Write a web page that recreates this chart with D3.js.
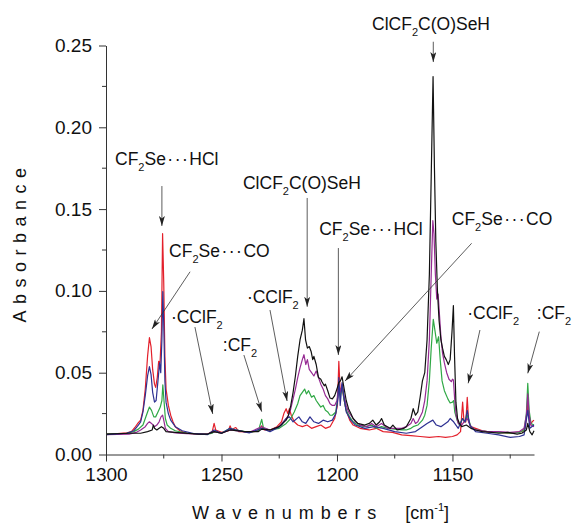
<!DOCTYPE html>
<html>
<head>
<meta charset="utf-8">
<script src="https://cdn.jsdelivr.net/npm/d3@7"></script>
<style>
  body { margin: 0; background: #fff; }
  svg { display: block; font-family: "Liberation Sans", Arial, sans-serif; }
</style>
</head>
<body>
<svg id="chart" width="575" height="529"></svg>
<script>
// Axis ticks
const xTicks = [1300, 1250, 1200, 1150];
const xMinorTicks = [1275, 1225, 1175, 1125];
const yTicks = [0, 0.05, 0.10, 0.15, 0.20, 0.25];
const yMinorTicks = [0.025, 0.075, 0.125, 0.175, 0.225];

// IR spectra: [wavenumber (cm-1), absorbance]
const redSpectrum = [
  [1300,0.0125],[1295,0.0128],[1291,0.0132],[1289,0.014],[1287.5,0.0165],[1286,0.0195],[1285,0.021],
  [1284,0.027],[1283,0.040],[1282,0.060],[1281.2,0.0714],[1280.5,0.066],[1279.8,0.052],[1279,0.043],
  [1278.5,0.041],[1277.8,0.047],[1277.2,0.057],[1276.6,0.056],[1276,0.075],[1275.5,0.135],[1275,0.105],
  [1274.5,0.060],[1274,0.040],[1273,0.030],[1272,0.024],[1271,0.020],[1270,0.017],[1268,0.0145],
  [1265,0.013],[1260,0.0125],[1256,0.0125],[1254,0.014],[1253.2,0.019],[1252.5,0.015],[1250,0.0135],
  [1247,0.0145],[1246.3,0.0175],[1245.5,0.015],[1244.5,0.016],[1243.8,0.0165],[1242.5,0.014],
  [1238,0.0138],[1235,0.0142],[1233.5,0.0155],[1232.6,0.0175],[1231.5,0.015],[1229,0.015],[1226,0.017],
  [1224,0.020],[1223,0.025],[1222,0.028],[1221.3,0.025],[1220.6,0.028],[1219.8,0.024],[1218.5,0.020],
  [1217,0.018],[1215,0.017],[1213,0.018],[1211,0.016],[1209,0.017],[1207,0.018],[1205,0.016],
  [1203,0.017],[1201,0.022],[1199.8,0.030],[1199.2,0.057],[1198.6,0.038],[1197.8,0.042],[1197,0.034],
  [1196,0.027],[1194.5,0.021],[1193,0.018],[1190,0.016],[1186,0.015],[1183,0.016],[1180,0.014],
  [1176,0.0135],[1172,0.012],[1168,0.0115],[1164,0.011],[1160,0.0105],[1156,0.011],[1153,0.0105],
  [1150,0.011],[1148,0.012],[1146.5,0.014],[1145.6,0.032],[1145,0.020],[1144.2,0.020],[1143.6,0.035],
  [1143,0.020],[1142,0.017],[1140,0.016],[1137,0.0145],[1135,0.014],[1130,0.0135],[1125,0.013],
  [1120,0.014],[1118.5,0.016],[1117.4,0.031],[1116.5,0.018],[1115.5,0.020],[1114.7,0.021]
];

const greenSpectrum = [
  [1300,0.0125],[1291,0.013],[1288,0.014],[1286,0.0155],[1284,0.018],[1283,0.022],[1282,0.026],
  [1281.2,0.029],[1280.3,0.027],[1279.3,0.023],[1278.5,0.023],[1277.5,0.026],[1276.5,0.029],
  [1275.8,0.033],[1275.4,0.0425],[1275,0.035],[1274.3,0.022],[1273.5,0.018],[1272,0.016],[1270,0.0145],
  [1265,0.013],[1256,0.0125],[1254,0.013],[1253.2,0.014],[1250,0.013],[1246.3,0.016],[1244,0.015],
  [1238,0.0135],[1234,0.0145],[1232.6,0.0215],[1231.8,0.016],[1229,0.015],[1225,0.016],[1222,0.019],
  [1220,0.022],[1218.5,0.026],[1217,0.031],[1216,0.036],[1215,0.038],[1214,0.040],[1213.2,0.037],
  [1212.3,0.039],[1211,0.035],[1210,0.036],[1209,0.033],[1208,0.031],[1207,0.029],[1206,0.030],
  [1205,0.027],[1204,0.026],[1203,0.024],[1202,0.024],[1200.5,0.026],[1199.3,0.040],[1198.6,0.036],
  [1197.8,0.042],[1197,0.034],[1196,0.027],[1194.5,0.023],[1193,0.020],[1191,0.018],[1188,0.017],
  [1185,0.018],[1183,0.016],[1180.7,0.017],[1178,0.016],[1175,0.0155],[1172,0.015],[1170,0.015],
  [1168,0.016],[1167,0.017],[1165,0.018],[1163,0.021],[1162,0.024],[1161,0.030],[1160,0.045],
  [1159.2,0.065],[1158.3,0.0826],[1157.5,0.075],[1156.8,0.068],[1156,0.072],[1155.3,0.058],
  [1154.5,0.045],[1153.5,0.039],[1152,0.034],[1151,0.0315],[1150,0.032],[1149.5,0.033],[1149,0.026],
  [1148,0.021],[1147,0.018],[1145.6,0.022],[1144.5,0.020],[1143.6,0.024],[1142,0.017],[1140,0.015],
  [1135,0.014],[1130,0.0135],[1125,0.013],[1121,0.0135],[1119,0.015],[1118,0.025],[1117.4,0.0435],
  [1116.8,0.027],[1116,0.019],[1114.7,0.018]
];

const purpleSpectrum = [
  [1300,0.0122],[1290,0.0125],[1287,0.0135],[1285,0.015],[1283,0.017],[1282,0.019],[1281.2,0.020],
  [1280.3,0.019],[1279,0.017],[1278,0.018],[1277,0.020],[1276.2,0.023],[1275.5,0.024],[1275,0.021],
  [1274.3,0.016],[1273,0.014],[1270,0.0132],[1265,0.0128],[1256,0.0125],[1253.2,0.014],[1250,0.013],
  [1246.3,0.015],[1238,0.0135],[1232.6,0.017],[1229,0.015],[1225,0.017],[1222,0.022],[1221,0.024],
  [1220,0.028],[1219,0.034],[1218,0.040],[1217,0.047],[1216,0.053],[1215,0.058],[1214.3,0.061],
  [1213.5,0.055],[1212.8,0.058],[1212,0.052],[1211,0.050],[1210,0.048],[1209,0.051],[1208,0.047],
  [1207,0.043],[1206,0.040],[1205,0.036],[1204,0.034],[1203,0.031],[1202,0.030],[1201,0.030],
  [1200,0.033],[1199.2,0.043],[1198.6,0.038],[1197.8,0.043],[1197,0.036],[1196,0.030],[1195,0.026],
  [1194,0.024],[1192,0.020],[1190,0.018],[1187,0.017],[1185,0.019],[1183,0.017],[1180.7,0.019],
  [1178,0.016],[1175,0.016],[1172,0.016],[1170,0.017],[1168,0.019],[1167,0.022],[1166,0.019],
  [1165,0.020],[1163,0.026],[1162,0.033],[1161,0.045],[1160,0.070],[1159.2,0.110],[1158.5,0.143],
  [1158,0.135],[1157.4,0.110],[1156.8,0.095],[1156.2,0.098],[1155.6,0.085],[1155,0.072],[1154.3,0.062],
  [1153.5,0.056],[1152.5,0.050],[1151.5,0.046],[1150.5,0.0445],[1150,0.046],[1149.6,0.0455],
  [1149,0.033],[1148.4,0.024],[1147.5,0.019],[1146,0.018],[1145,0.020],[1143.6,0.022],[1142,0.017],
  [1140,0.015],[1135,0.014],[1130,0.014],[1125,0.0135],[1121,0.014],[1119,0.016],[1118,0.024],
  [1117.4,0.037],[1116.8,0.024],[1116,0.018],[1114.7,0.017]
];

const blueSpectrum = [
  [1300,0.0122],[1291,0.013],[1288,0.0145],[1286,0.018],[1285,0.020],[1284,0.026],[1283,0.036],
  [1282,0.048],[1281.2,0.0537],[1280.5,0.049],[1279.8,0.038],[1279,0.032],[1278.3,0.033],[1277.5,0.045],
  [1276.8,0.056],[1276.3,0.050],[1275.8,0.070],[1275.4,0.0995],[1275,0.080],[1274.5,0.045],[1274,0.032],
  [1273,0.025],[1272,0.021],[1270,0.017],[1267,0.0145],[1262,0.0128],[1256,0.0122],[1253.2,0.015],
  [1250,0.013],[1246.3,0.016],[1243.8,0.015],[1238,0.0132],[1232.6,0.016],[1229,0.014],[1226,0.016],
  [1224,0.018],[1222,0.022],[1220.6,0.023],[1219,0.020],[1216.5,0.023],[1215,0.020],[1213.5,0.019],
  [1211.7,0.023],[1210,0.020],[1208,0.019],[1206,0.021],[1204,0.020],[1202,0.021],[1200.5,0.025],
  [1199.5,0.035],[1199.2,0.047],[1198.6,0.030],[1197.8,0.044],[1197,0.035],[1196,0.026],[1194,0.021],
  [1192,0.018],[1188,0.016],[1184,0.017],[1180,0.016],[1175,0.014],[1170,0.013],[1166,0.014],
  [1163,0.017],[1161,0.019],[1158.5,0.021],[1157,0.018],[1155,0.017],[1152,0.020],[1151,0.022],
  [1149.5,0.020],[1147.5,0.016],[1145.6,0.022],[1144.5,0.020],[1143.6,0.027],[1142.5,0.018],
  [1140,0.014],[1135,0.013],[1130,0.012],[1125,0.0105],[1121,0.011],[1119,0.012],[1117.4,0.027],
  [1116.5,0.016],[1114.7,0.018]
];

const blackSpectrum = [
  [1300,0.0125],[1290,0.013],[1285,0.013],[1282,0.014],[1280,0.015],[1279.5,0.018],[1279,0.016],
  [1278,0.015],[1277,0.016],[1276,0.017],[1275,0.016],[1274,0.014],[1270,0.0135],[1260,0.0125],
  [1256,0.0125],[1253.2,0.014],[1250,0.013],[1246.3,0.015],[1240,0.014],[1234,0.014],[1232.6,0.0155],
  [1229,0.015],[1225,0.017],[1222,0.021],[1221,0.024],[1220,0.030],[1219,0.038],[1218,0.048],
  [1217,0.060],[1216,0.070],[1215,0.076],[1214.3,0.083],[1213.6,0.070],[1212.8,0.065],[1212,0.066],
  [1211.2,0.063],[1210.5,0.058],[1210,0.060],[1209,0.055],[1208,0.047],[1207,0.046],[1206.5,0.0445],
  [1205.5,0.042],[1205,0.043],[1204,0.039],[1203,0.0345],[1202,0.034],[1201,0.036],[1200,0.040],
  [1199.2,0.044],[1198.5,0.045],[1197.8,0.0475],[1197,0.041],[1196,0.033],[1195,0.028],[1194,0.025],
  [1193,0.022],[1191,0.019],[1188,0.018],[1186,0.019],[1184.5,0.021],[1183,0.018],[1181.5,0.020],
  [1180.7,0.022],[1179.5,0.018],[1177,0.016],[1175.8,0.018],[1174,0.015],[1171,0.016],[1170,0.017],
  [1168,0.022],[1167,0.028],[1166,0.024],[1165,0.026],[1164,0.035],[1163,0.045],[1162,0.050],
  [1161,0.070],[1160,0.110],[1159.2,0.170],[1158.4,0.231],[1157.8,0.175],[1157.2,0.130],[1156.5,0.100],
  [1155.8,0.082],[1155,0.070],[1154.3,0.065],[1153.5,0.060],[1152.7,0.058],[1151.8,0.055],[1151,0.058],
  [1150.2,0.075],[1149.6,0.091],[1149.1,0.060],[1148.5,0.032],[1147.8,0.022],[1147,0.019],[1146,0.017],
  [1144,0.018],[1142,0.016],[1140,0.015],[1137,0.014],[1133,0.0135],[1130,0.013],[1126,0.0135],
  [1122,0.0125],[1120,0.013],[1118,0.015],[1117.4,0.019],[1116.5,0.014],[1115.5,0.012],[1114.7,0.0145]
];

// Drawing order: later series sit on top
const seriesList = [
  { name: "red",    color: "#e3202b", values: redSpectrum },
  { name: "green",  color: "#2fa845", values: greenSpectrum },
  { name: "purple", color: "#962a93", values: purpleSpectrum },
  { name: "blue",   color: "#2e3192", values: blueSpectrum },
  { name: "black",  color: "#111111", values: blackSpectrum }
];

// Band assignments: text anchor and arrow (tail -> head), all in data units
const SUB = "sub", DOTS = "dots";
const annotations = [
  { parts: [["CF"],["2",SUB],["Se"],["\u00B7\u00B7\u00B7",DOTS],["HCl"]], at: [1296.1, 0.1806], from: [1275.8, 0.1641], to: [1275.8, 0.1397] },
  { parts: [["CF"],["2",SUB],["Se"],["\u00B7\u00B7\u00B7",DOTS],["CO"]], at: [1272.7, 0.1244], from: [1263.6, 0.1117], to: [1280.1, 0.0767] },
  { parts: [["\u00B7CClF"],["2",SUB]], at: [1271.9, 0.0842], from: [1261.5, 0.0779], to: [1253.8, 0.0248] },
  { parts: [[":CF"],["2",SUB]], at: [1249.4, 0.0669], from: [1240.3, 0.0608], to: [1232.6, 0.0262] },
  { parts: [["\u00B7CClF"],["2",SUB]], at: [1239.0, 0.0963], from: [1229.0, 0.0883], to: [1221.6, 0.0327] },
  { parts: [["ClCF"],["2",SUB],["C(O)SeH"]], at: [1240.7, 0.1660], from: [1212.9, 0.1568], to: [1212.9, 0.0903] },
  { parts: [["CF"],["2",SUB],["Se"],["\u00B7\u00B7\u00B7",DOTS],["HCl"]], at: [1207.7, 0.1377], from: [1199.4, 0.1262], to: [1199.4, 0.0608] },
  { parts: [["ClCF"],["2",SUB],["C(O)SeH"]], at: [1184.8, 0.2631], from: [1158.3, 0.2523], to: [1158.3, 0.2399] },
  { parts: [["CF"],["2",SUB],["Se"],["\u00B7\u00B7\u00B7",DOTS],["CO"]], at: [1150.3, 0.1438], from: [1141.7, 0.1291], to: [1196.5, 0.0449] },
  { parts: [["\u00B7CClF"],["2",SUB]], at: [1143.6, 0.0863], from: [1138.1, 0.0761], to: [1143.2, 0.0435] },
  { parts: [[":CF"],["2",SUB]], at: [1113.5, 0.0863], from: [1112.4, 0.0751], to: [1117.4, 0.0496] }
];

const svg = d3.select("#chart");
const x = d3.scaleLinear().domain([1300, 1114.7]).range([106, 534]);
const y = d3.scaleLinear().domain([0, 0.25]).range([454.5, 45.5]);

// Arrowhead
svg.append("defs").append("marker")
  .attr("id", "head")
  .attr("viewBox", "0 0 10 6")
  .attr("refX", 10).attr("refY", 3)
  .attr("markerWidth", 10).attr("markerHeight", 6)
  .attr("markerUnits", "userSpaceOnUse")
  .attr("orient", "auto")
  .append("path")
  .attr("d", "M0,0 L10,3 L0,6 L2.5,3 Z")
  .attr("fill", "#222");

// Spectra
const line = d3.line().x(d => x(d[0])).y(d => y(d[1]));
svg.append("g").selectAll("path")
  .data(seriesList)
  .join("path")
  .attr("fill", "none")
  .attr("stroke", d => d.color)
  .attr("stroke-width", 1.2)
  .attr("stroke-linejoin", "round")
  .attr("d", d => line(d.values));

// Axes
const axisColor = "#333";
const xAxis = svg.append("g").attr("transform", `translate(0,${y(0)})`)
  .call(d3.axisBottom(x).tickValues(xTicks).tickFormat(d3.format("d")).tickSizeInner(7).tickSizeOuter(0).tickPadding(6));
xAxis.append("g").selectAll("line").data(xMinorTicks).join("line")
  .attr("x1", d => x(d)).attr("x2", d => x(d)).attr("y1", 0).attr("y2", 4)
  .attr("stroke", axisColor);

const yAxis = svg.append("g").attr("transform", `translate(${x(1300)},0)`)
  .call(d3.axisLeft(y).tickValues(yTicks).tickFormat(d3.format(".2f")).tickSizeInner(7).tickSizeOuter(0).tickPadding(7));
yAxis.append("g").selectAll("line").data(yMinorTicks).join("line")
  .attr("x1", 0).attr("x2", -4).attr("y1", d => y(d)).attr("y2", d => y(d))
  .attr("stroke", axisColor);

[xAxis, yAxis].forEach(g => {
  g.select(".domain").attr("stroke", axisColor);
  g.selectAll(".tick line").attr("stroke", axisColor);
  g.selectAll(".tick text").attr("fill", "#111").style("font-size", "19px")
    .style("font-family", '"Liberation Sans", Arial, sans-serif');
});

// Axis titles
svg.append("text")
  .attr("transform", `translate(26,242) rotate(-90)`)
  .attr("text-anchor", "middle")
  .attr("fill", "#111")
  .style("font-size", "18px")
  .style("letter-spacing", "6.5px")
  .text("Absorbance");

const xTitle = svg.append("text")
  .attr("x", 192).attr("y", 519)
  .attr("fill", "#111")
  .style("font-size", "18px");
xTitle.append("tspan").style("letter-spacing", "6.9px").text("Wavenumbers");
xTitle.append("tspan").attr("dx", 22).text("[cm");
xTitle.append("tspan").attr("dy", -8).style("font-size", "11px").text("-1");
xTitle.append("tspan").attr("dy", 8).text("]");

// Annotations
const ann = svg.append("g");
annotations.forEach(a => {
  const t = ann.append("text")
    .attr("x", x(a.at[0])).attr("y", y(a.at[1]) + 6)
    .attr("fill", "#111")
    .style("font-size", "17.5px");
  let lowered = false;
  a.parts.forEach(([s, kind]) => {
    const ts = t.append("tspan").text(s);
    if (kind === SUB) {
      ts.attr("dy", 6).style("font-size", "11px");
      lowered = true;
    } else {
      if (lowered) { ts.attr("dy", -6); lowered = false; }
      if (kind === DOTS) ts.style("letter-spacing", "1.5px").attr("dx", 1.5);
    }
  });
  ann.append("line")
    .attr("x1", x(a.from[0])).attr("y1", y(a.from[1]))
    .attr("x2", x(a.to[0])).attr("y2", y(a.to[1]))
    .attr("stroke", "#333").attr("stroke-width", 0.8)
    .attr("marker-end", "url(#head)");
});
</script>
</body>
</html>
